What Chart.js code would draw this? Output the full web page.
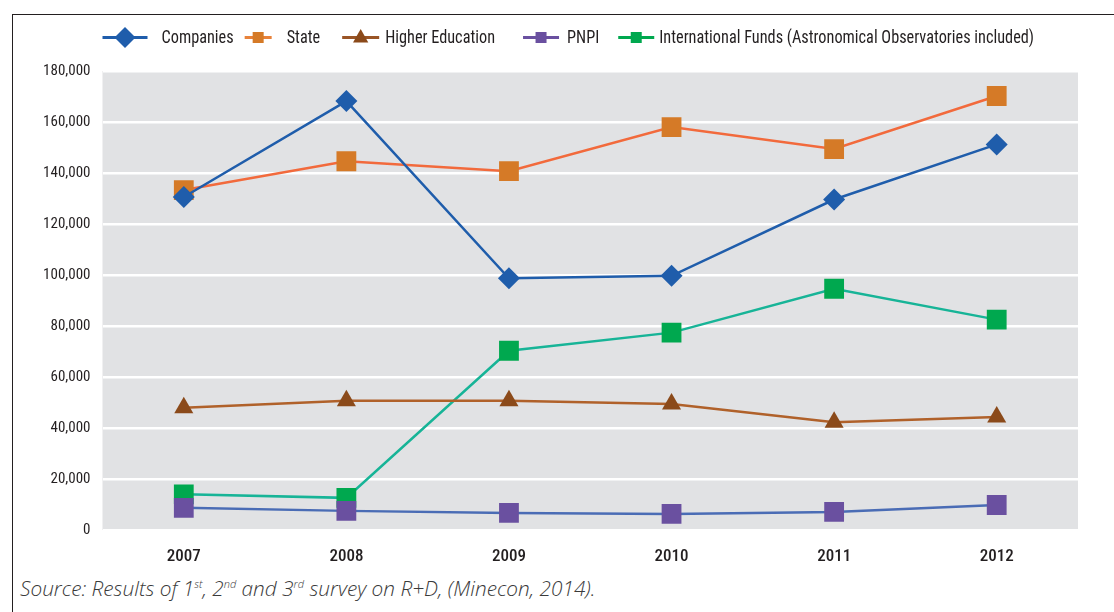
<!DOCTYPE html>
<html>
<head>
<meta charset="utf-8">
<script src="https://cdn.jsdelivr.net/npm/chart.js@4.4.1/dist/chart.umd.min.js"></script>
<style>
  html, body { margin: 0; padding: 0; background: #fff; }
  body { width: 1114px; height: 612px; position: relative; overflow: hidden; }
  #frame { position: absolute; left: 12px; top: 14px; width: 1102px; height: 598px;
           border-top: 1px solid #231f20; border-left: 1px solid #231f20; }
  #wrap { position: absolute; left: 0; top: 0; width: 1101px; height: 557px; }
  #source { position: absolute; left: 7px; top: 559px; font-family: "Open Sans", sans-serif;
            font-style: italic; font-weight: 300; font-size: 20.8px; color: #3a3a3a; white-space: nowrap; }
  #source sup { font-size: 11px; }
</style>
</head>
<body>
<div id="frame">
  <div id="wrap"><canvas id="chart"></canvas></div>
  <div id="source">Source: Results of 1<sup>st</sup>, 2<sup>nd</sup> and 3<sup>rd</sup> survey on R+D, (Minecon, 2014).</div>
</div>
<script>
// ====== Data ======
const years = ["2007", "2008", "2009", "2010", "2011", "2012"];
const companies = [130600, 168200, 98700, 99700, 129600, 151200];
const state = [133300, 144600, 140700, 158000, 149400, 170200];
const higherEducation = [47900, 50700, 50700, 49400, 42300, 44300];
const pnpi = [8700, 7500, 6700, 6300, 7100, 9800];
const internationalFunds = [14000, 12600, 70300, 77400, 94600, 82500];
const yTicks = [0, 20000, 40000, 60000, 80000, 100000, 120000, 140000, 160000, 180000];

const FONT = '"Roboto Condensed", "DejaVu Sans Condensed", sans-serif';
const TEXT = "#231f20";

// line colour, marker colour, marker shape/size, legend icon look
const series = [
  { label: "Companies", data: companies, line: "#1f5dab", mark: "#1f5dab", style: "rectRot", r: 11,
    leg: { before: 0, w: 45, gap: 14, shape: "diamond", size: 10.5, line: "#1f5dab" } },
  { label: "State", data: state, line: "#f26a3c", mark: "#d57a27", style: "rect", r: 14,
    leg: { before: 11, w: 27, gap: 15, shape: "rect", size: 5.5, line: "#e8823a" } },
  { label: "Higher Education", data: higherEducation, line: "#b0612a", mark: "#8b4a1a", style: "triangle", r: 11,
    leg: { before: 22, w: 37, gap: 6, shape: "triangle", size: 8.5, line: "#9a5526" } },
  { label: "PNPI", data: pnpi, line: "#4a6cb5", mark: "#6a50a0", style: "rect", r: 14,
    leg: { before: 28, w: 36, gap: 8, shape: "rect", size: 5.5, line: "#6a50a0" } },
  { label: "International Funds (Astronomical Observatories included)", data: internationalFunds,
    line: "#17b497", mark: "#00a84f", style: "rect", r: 14,
    leg: { before: 19, w: 36, gap: 5, shape: "rect", size: 5.5, line: "#00a84f" } }
];

// ====== Grey plot background ======
const plotBg = {
  id: "plotBg",
  beforeDraw(chart) {
    const a = chart.chartArea, g = chart.ctx;
    g.save();
    g.fillStyle = "#e1e2e4";
    g.fillRect(a.left, a.top, a.right - a.left, a.bottom - a.top);
    g.restore();
  }
};

// ====== Legend: line + marker, then label (narrow type) ======
const lineLegend = {
  id: "lineLegend",
  afterDraw(chart) {
    const g = chart.ctx;
    const y = 22.5, squeeze = 0.88;
    let x = chart.chartArea.left;
    g.save();
    g.font = "18.5px " + FONT;
    g.textBaseline = "middle";
    chart.data.datasets.forEach((d, i) => {
      const L = series[i].leg;
      x += L.before;
      g.strokeStyle = L.line;
      g.lineWidth = 3;
      g.beginPath(); g.moveTo(x, y); g.lineTo(x + L.w, y); g.stroke();
      const cx = x + L.w / 2, s = L.size;
      g.fillStyle = d.pointBackgroundColor;
      g.beginPath();
      if (L.shape === "diamond") {
        g.moveTo(cx, y - s); g.lineTo(cx + s, y); g.lineTo(cx, y + s); g.lineTo(cx - s, y);
      } else if (L.shape === "triangle") {
        g.moveTo(cx, y - s); g.lineTo(cx + s * 0.9, y + s * 0.6); g.lineTo(cx - s * 0.9, y + s * 0.6);
      } else {
        g.rect(cx - s, y - s, s * 2, s * 2);
      }
      g.closePath(); g.fill();
      x += L.w + L.gap;
      g.save();
      g.translate(x, y + 1);
      g.scale(squeeze, 1);
      g.fillStyle = TEXT;
      g.fillText(d.label, 0, 0);
      g.restore();
      x += g.measureText(d.label).width * squeeze;
    });
    g.restore();
  }
};

new Chart(document.getElementById("chart"), {
  type: "line",
  data: {
    labels: years,
    datasets: series.map(s => ({
      label: s.label,
      data: s.data,
      borderColor: s.line,
      borderWidth: 2.5,
      backgroundColor: s.mark,
      pointBackgroundColor: s.mark,
      pointBorderWidth: 0,
      pointStyle: s.style,
      pointRadius: s.r,
      pointHoverRadius: s.r,
      tension: 0
    }))
  },
  options: {
    responsive: true,
    maintainAspectRatio: false,
    animation: false,
    layout: { padding: { left: 0, right: 36, top: 56, bottom: 0 } },
    plugins: {
      tooltip: { enabled: false },
      legend: { display: false }
    },
    scales: {
      x: {
        offset: true,
        grid: { display: false },
        border: { display: false },
        ticks: { color: TEXT, font: { family: FONT, size: 17, weight: 500 }, padding: 9 },
        afterFit(scale) { scale.height = 42; }
      },
      y: {
        min: 0,
        max: 180000,
        afterBuildTicks(scale) { scale.ticks = yTicks.map(v => ({ value: v })); },
        grid: { color: "#ffffff", lineWidth: 2.5, drawTicks: false },
        border: { display: false },
        ticks: {
          color: TEXT,
          font: { family: FONT, size: 15 },
          padding: 12,
          callback: v => v.toLocaleString("en-US")
        },
        afterFit(scale) { scale.width = 89.5; }
      }
    }
  },
  plugins: [plotBg, lineLegend]
});
</script>
</body>
</html>
